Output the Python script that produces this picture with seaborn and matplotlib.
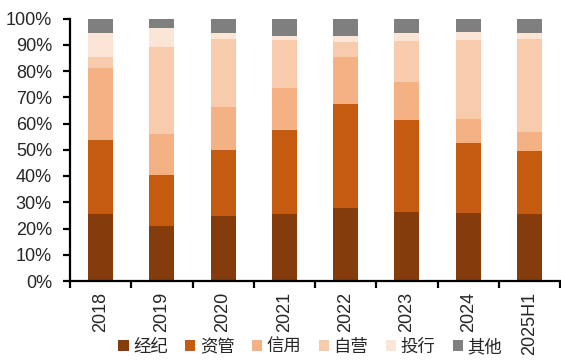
import matplotlib
matplotlib.use("Agg")
import matplotlib.pyplot as plt
import numpy as np
import pandas as pd
import seaborn as sns

# Revenue structure by business line (% of total)
periods = ["2018", "2019", "2020", "2021", "2022", "2023", "2024", "2025H1"]
brokerage = [25.7, 20.8, 24.8, 25.7, 27.9, 26.3, 25.9, 25.6]   # 经纪
asset_mgmt = [27.9, 19.4, 25.1, 31.8, 39.4, 34.9, 26.6, 23.9]  # 资管
credit = [27.4, 15.7, 16.4, 16.0, 17.9, 14.5, 9.2, 7.2]        # 信用
proprietary = [4.2, 33.1, 25.7, 18.5, 5.7, 15.9, 30.2, 35.4]   # 自营
ib = [9.2, 7.5, 2.6, 1.4, 2.6, 2.7, 2.9, 2.2]                  # 投行
other = [5.6, 3.5, 5.4, 6.6, 6.5, 5.7, 5.2, 5.7]               # 其他

series_names = ["经纪", "资管", "信用", "自营", "投行", "其他"]
series_values = [brokerage, asset_mgmt, credit, proprietary, ib, other]
colors = ["#843C0C", "#C55A11", "#F4B183", "#F8CBAD", "#FBE5D6", "#7F7F7F"]
y_ticks = list(range(0, 101, 10))

sns.set_theme(style="white")
plt.rcParams["font.family"] = ["Liberation Sans", "Noto Sans CJK SC", "DejaVu Sans"]

df = pd.DataFrame(dict(zip(series_names, series_values)), index=periods)
cum = df.cumsum(axis=1)

fig = plt.figure(figsize=(5.61, 3.61), dpi=100)
ax = fig.add_axes([70 / 561, 1 - 281 / 361, 490 / 561, (281 - 18.5) / 361])

# stacked bars: draw cumulative totals from the top layer down
for name, color in reversed(list(zip(series_names, colors))):
    sns.barplot(x=periods, y=cum[name].values, color=color, width=0.41,
                ax=ax, saturation=1, label=name, linewidth=0)

ax.set_xlim(-0.5, len(periods) - 0.5)
ax.set_ylim(0, 100)
ax.set_yticks(y_ticks)
ax.set_yticklabels([f"{v}%" for v in y_ticks], fontsize=13)

ax.set_xticks(range(len(periods)))
ax.set_xticklabels(periods, rotation=90, fontsize=13)
ax.set_xticks(np.arange(-0.5, len(periods), 1.0), minor=True)
ax.tick_params(axis="x", which="major", length=0, pad=8)
ax.tick_params(axis="x", which="minor", length=5, width=1.6, color="black",
               direction="out", bottom=True)
ax.tick_params(axis="y", length=5, width=1.6, color="black", direction="out",
               left=True, pad=8)

for side in ["top", "right"]:
    ax.spines[side].set_visible(False)
for side in ["left", "bottom"]:
    ax.spines[side].set_visible(True)
    ax.spines[side].set_color("black")
    ax.spines[side].set_linewidth(1.6)

handles, labels = ax.get_legend_handles_labels()
order = [labels.index(n) for n in series_names]
ax.legend([handles[i] for i in order], [labels[i] for i in order],
          loc="center", bbox_to_anchor=(0.49, -0.25), ncol=6, frameon=False,
          fontsize=12.5, handlelength=0.6, handleheight=0.6,
          handletextpad=0.25, columnspacing=1.0, borderaxespad=0)

fig.savefig("out.png", dpi=100)
